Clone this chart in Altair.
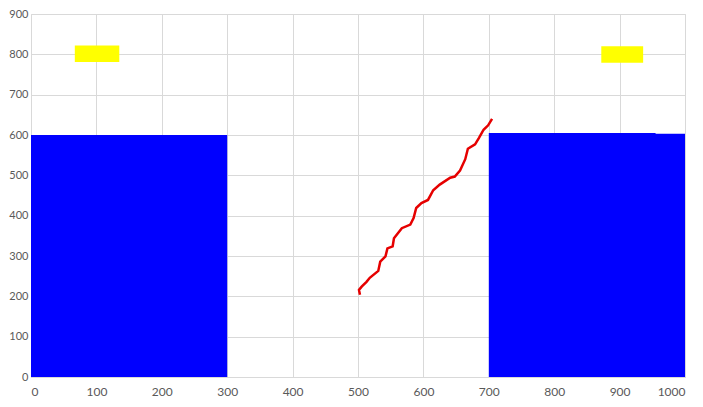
import altair as alt
import pandas as pd

# Blue blocks
blue_x = [0, 700, 953]
blue_x2 = [300, 955, 1000]
blue_y = [0, 0, 0]
blue_y2 = [600, 605, 603]

# Yellow blocks
yel_x = [67, 872]
yel_x2 = [135, 936]
yel_y = [781, 779]
yel_y2 = [822, 820]

# Red path
red_x = [503, 501.5, 505.6, 513, 518, 531, 534, 542, 545, 553, 555, 567, 580, 585, 589,
         597, 607, 615, 625, 641, 648, 656, 664, 668, 679, 685, 692, 699, 705]
red_y = [204, 216, 224, 236, 246, 263, 286, 299, 319, 324, 344, 369, 378, 394, 419,
         431, 439, 463, 477, 494, 497, 512, 540, 566, 577, 593, 613, 624, 640]

blue = pd.DataFrame({"x": blue_x, "x2": blue_x2, "y": blue_y, "y2": blue_y2})
yel = pd.DataFrame({"x": yel_x, "x2": yel_x2, "y": yel_y, "y2": yel_y2})
red = pd.DataFrame({"x": red_x, "y": red_y, "i": list(range(len(red_x)))})

xs = alt.Scale(domain=[0, 1000], nice=False, zero=False)
ys = alt.Scale(domain=[0, 900], nice=False, zero=False)

xaxis = alt.Axis(values=list(range(0, 1001, 100)), format="d", title=None, ticks=False, domain=True,
                 domainColor="#d9d9d9", gridColor="#d9d9d9", labelColor="#595959",
                 labelFont="Lato", labelFontSize=12, labelPadding=9)
yaxis = alt.Axis(values=list(range(0, 901, 100)), format="d", title=None, ticks=False, domain=False,
                 gridColor="#d9d9d9", labelColor="#595959",
                 labelFont="Lato", labelFontSize=11, labelPadding=3)

base_blue = alt.Chart(blue).mark_rect(color="#0000ff").encode(
    x=alt.X("x:Q", scale=xs, axis=xaxis),
    x2="x2:Q",
    y=alt.Y("y:Q", scale=ys, axis=yaxis),
    y2="y2:Q",
)
base_yel = alt.Chart(yel).mark_rect(color="#ffff00").encode(
    x=alt.X("x:Q", scale=xs), x2="x2:Q", y=alt.Y("y:Q", scale=ys), y2="y2:Q"
)
line = alt.Chart(red).mark_line(color="#e60000", strokeWidth=2.5).encode(
    x=alt.X("x:Q", scale=xs), y=alt.Y("y:Q", scale=ys), order="i:Q"
)

chart = alt.layer(base_blue, base_yel, line).properties(
    width=654, height=363,
    autosize=alt.AutoSizeParams(type="none"),
    padding={"left": 23, "top": 6, "right": 10, "bottom": 30},
).configure_view(stroke=None).configure(background="white")

chart.save("out.html", embed_options={"renderer": "svg", "actions": False})
